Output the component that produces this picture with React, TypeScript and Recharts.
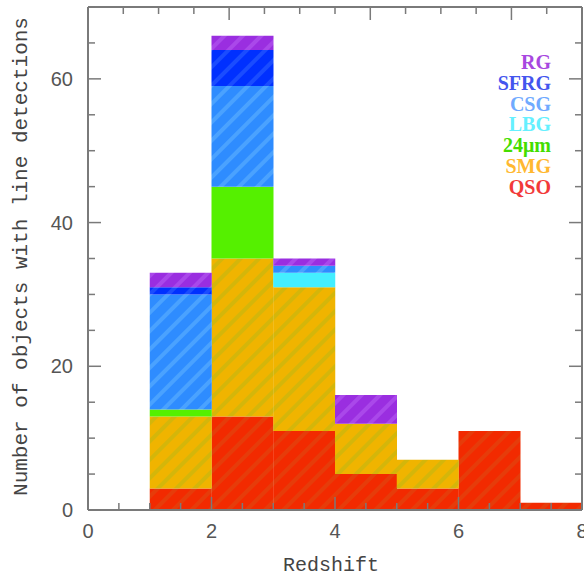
import React from 'react';
import { ComposedChart, Bar, XAxis, YAxis, Legend, ReferenceLine } from 'recharts';

// Histogram bins (redshift) – bar centres of 1-wide bins
const binCenters = [0.5, 1.5, 2.5, 3.5, 4.5, 5.5, 6.5, 7.5];
// Counts per class (stacked bottom → top)
const qso = [0, 3, 13, 11, 5, 3, 11, 1];
const smg = [0, 10, 22, 20, 7, 4, 0, 0];
const mic24 = [0, 1, 10, 0, 0, 0, 0, 0];
const lbg = [0, 0, 0, 2, 0, 0, 0, 0];
const csg = [0, 16, 14, 1, 0, 0, 0, 0];
const sfrg = [0, 1, 5, 0, 0, 0, 0, 0];
const rg = [0, 2, 2, 1, 4, 0, 0, 0];

const seriesNames = ['QSO', 'SMG', '24μm', 'LBG', 'CSG', 'SFRG', 'RG'];
const seriesKeys = ['qso', 'smg', 'mic24', 'lbg', 'csg', 'sfrg', 'rg'];
const seriesValues = [qso, smg, mic24, lbg, csg, sfrg, rg];
const seriesColors = ['#f22a00', '#f0b400', '#55f000', '#44eeff', '#2e8cff', '#0030ff', '#9a2ee0'];
const stripeColors = ['#e63c0a', '#d4b60a', '#55f000', '#44eeff', '#4aa2ff', '#1a4cff', '#aa48ea'];
const legendColors = ['#f23a3a', '#ffb830', '#44dd00', '#66f0ff', '#70aaff', '#4455ee', '#a848e0'];

const xTicks = [0, 0.5, 1, 1.5, 2, 2.5, 3, 3.5, 4, 4.5, 5, 5.5, 6, 6.5, 7, 7.5, 8];
const xLabelTicks = [0, 2, 4, 6, 8];
const yTicks = [0, 5, 10, 15, 20, 25, 30, 35, 40, 45, 50, 55, 60, 65, 70];
const yLabelTicks = [0, 20, 40, 60];

const data = binCenters.map((x, i) => {
  const row: Record<string, number> = { x };
  seriesKeys.forEach((k, j) => {
    row[k] = seriesValues[j][i];
  });
  return row;
});

const FRAME = '#7a7a7a';
const TICK_FONT = '"Liberation Sans", Arial, sans-serif';
const LABEL_FONT = '"Liberation Mono", "DejaVu Sans Mono", monospace';
const LEGEND_FONT = '"Liberation Serif", "DejaVu Serif", serif';

const BottomTick = (props: any) => {
  const { x, y, payload } = props;
  const major = xLabelTicks.includes(payload.value);
  const len = major ? 13 : 7;
  return (
    <g>
      <line x1={x} x2={x} y1={y} y2={y - len} stroke={FRAME} strokeWidth={1.5} />
      {major && (
        <text x={x} y={y + 14} dy="0.72em" textAnchor="middle" fill="#555" fontSize={20} fontFamily={TICK_FONT}>
          {payload.value}
        </text>
      )}
    </g>
  );
};

const TopTick = (props: any) => {
  const { x, y, payload } = props;
  const major = xLabelTicks.includes(payload.value);
  const len = major ? 13 : 7;
  return <line x1={x} x2={x} y1={y} y2={y + len} stroke={FRAME} strokeWidth={1.5} />;
};

const LeftTick = (props: any) => {
  const { x, y, payload } = props;
  const major = yLabelTicks.includes(payload.value);
  const len = major ? 13 : 7;
  return (
    <g>
      <line x1={x} x2={x + len} y1={y} y2={y} stroke={FRAME} strokeWidth={1.5} />
      {major && (
        <text x={x - 15} y={y} dy="0.36em" textAnchor="end" fill="#555" fontSize={20} fontFamily={TICK_FONT}>
          {payload.value}
        </text>
      )}
    </g>
  );
};

const RightTick = (props: any) => {
  const { x, y, payload } = props;
  const major = yLabelTicks.includes(payload.value);
  const len = major ? 13 : 7;
  return <line x1={x} x2={x - len} y1={y} y2={y} stroke={FRAME} strokeWidth={1.5} />;
};

const LegendContent = () => (
  <div
    style={{
      textAlign: 'right',
      fontFamily: LEGEND_FONT,
      fontWeight: 'bold',
      fontSize: 20,
      lineHeight: '20.8px',
      whiteSpace: 'nowrap',
    }}
  >
    {seriesNames
      .map((n, i) => ({ n, c: legendColors[i] }))
      .reverse()
      .map((s) => (
        <div key={s.n} style={{ color: s.c, height: 20.8 }}>
          {s.n}
        </div>
      ))}
  </div>
);

export default function App() {
  return (
    <div style={{ position: 'absolute', left: 0, top: 0, width: 584, height: 577, background: '#fff' }}>
      <ComposedChart
        width={584}
        height={577}
        data={data}
        margin={{ top: 0, right: 0, bottom: 0, left: 0 }}
        barCategoryGap={0}
        barGap={0}
      >
        <defs>
          {seriesKeys.map((k, i) => (
            <pattern
              key={k}
              id={`hatch-${k}`}
              patternUnits="userSpaceOnUse"
              width={13}
              height={13}
              patternTransform="rotate(45)"
            >
              <rect width={13} height={13} fill={seriesColors[i]} />
              <rect width={4} height={13} fill={stripeColors[i]} />
            </pattern>
          ))}
        </defs>
        <XAxis
          dataKey="x"
          type="number"
          domain={[0, 8]}
          ticks={xTicks}
          interval={0}
          height={67}
          tickSize={0}
          tickMargin={0}
          tickLine={false}
          axisLine={{ stroke: FRAME, strokeWidth: 2 }}
          tick={<BottomTick />}
          allowDataOverflow
          label={{
            value: 'Redshift',
            position: 'center',
            dx: -4,
            dy: 20,
            style: { fontFamily: LABEL_FONT, fontSize: 20, fill: '#444' },
          }}
        />
        <XAxis
          xAxisId="top"
          orientation="top"
          type="number"
          domain={[0, 8]}
          ticks={xTicks}
          interval={0}
          height={7}
          tickSize={0}
          tickMargin={0}
          tickLine={false}
          axisLine={{ stroke: FRAME, strokeWidth: 2 }}
          tick={<TopTick />}
          allowDataOverflow
        />
        <YAxis
          type="number"
          domain={[0, 70]}
          ticks={yTicks}
          interval={0}
          width={88}
          tickSize={0}
          tickMargin={0}
          tickLine={false}
          axisLine={{ stroke: FRAME, strokeWidth: 2 }}
          tick={<LeftTick />}
          allowDataOverflow
          label={{
            value: 'Number of objects with line detections',
            angle: -90,
            position: 'center',
            dx: -24,
            dy: -2,
            style: { fontFamily: LABEL_FONT, fontSize: 21, fill: '#444', textAnchor: 'middle' },
          }}
        />
        <YAxis
          yAxisId="right"
          orientation="right"
          type="number"
          domain={[0, 70]}
          ticks={yTicks}
          interval={0}
          width={2}
          tickSize={0}
          tickMargin={0}
          tickLine={false}
          axisLine={{ stroke: FRAME, strokeWidth: 2 }}
          tick={<RightTick />}
          allowDataOverflow
        />
        {seriesKeys.map((k, i) => (
          <Bar
            key={k}
            dataKey={k}
            name={seriesNames[i]}
            stackId="z"
            fill={`url(#hatch-${k})`}
            isAnimationActive={false}
          />
        ))}
        <ReferenceLine
          segment={[
            { x: 0, y: 0 },
            { x: 1, y: 0 },
          ]}
          stroke="#e08040"
          strokeWidth={2}
        />
        <Legend
          layout="vertical"
          align="center"
          verticalAlign="middle"
          wrapperStyle={{ left: 'auto', right: 33, top: 52, width: 'auto' }}
          content={<LegendContent />}
        />
      </ComposedChart>
    </div>
  );
}
